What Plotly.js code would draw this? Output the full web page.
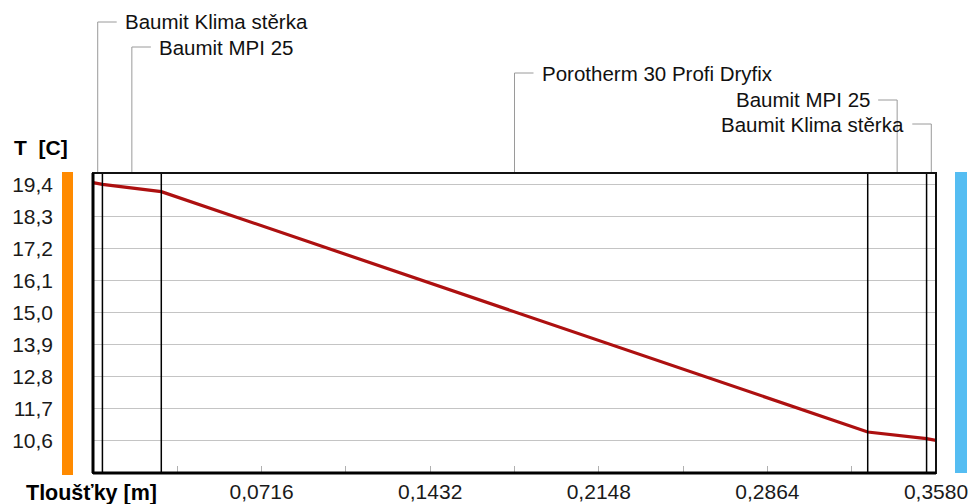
<!DOCTYPE html>
<html>
<head>
<meta charset="utf-8">
<script src="https://cdn.plot.ly/plotly-3.0.1.min.js"></script>
<style>html,body{margin:0;padding:0;background:#fff;}#chart{width:971px;height:504px;}</style>
</head>
<body>
<div id="chart"></div>
<script>
// Layers (from inside to outside)
const layerNames = ['Baumit Klima stěrka', 'Baumit MPI 25', 'Porotherm 30 Profi Dryfix', 'Baumit MPI 25', 'Baumit Klima stěrka'];
const layerThickness = [0.004, 0.025, 0.300, 0.025, 0.004];
// Temperature profile at layer boundaries
const depth = [0, 0.004, 0.029, 0.329, 0.354, 0.358];
const temperature = [19.48, 19.42, 19.17, 10.91, 10.68, 10.62];
// Axis ticks
const yTickVals = [10.6, 11.7, 12.8, 13.9, 15.0, 16.1, 17.2, 18.3, 19.4];
const yTickText = ['10,6', '11,7', '12,8', '13,9', '15,0', '16,1', '17,2', '18,3', '19,4'];
const xTickVals = [0.0358, 0.0716, 0.1074, 0.1432, 0.1790, 0.2148, 0.2506, 0.2864, 0.3222, 0.3580];
const xTickText = ['', '0,0716', '', '0,1432', '', '0,2148', '', '0,2864', '', '0,3580'];

const W = 971, H = 504;
const mL = 93, mR = 35, mT = 173, mB = 31;
const plotW = W - mL - mR, plotH = H - mT - mB;
const px2paperX = p => (p - mL) / plotW;
const px2paperY = p => (H - mB - p) / plotH;

// boundaries and centers
const bounds = [0];
layerThickness.forEach(t => bounds.push(+(bounds[bounds.length - 1] + t).toFixed(4)));
const centers = layerThickness.map((t, i) => bounds[i] + t / 2);

const shapes = [];
const annotations = [];
const FONT = 'Liberation Sans, Arial, sans-serif';

// layer boundary lines
bounds.slice(1, -1).forEach(b => {
  shapes.push({type: 'line', xref: 'x', yref: 'paper', x0: b, x1: b, y0: 0, y1: 1,
    line: {color: '#000', width: 1.5}});
});

// label placement (pixels)
const labelY = [22, 47, 73, 100, 124];
const side = [1, 1, 1, -1, -1];
layerNames.forEach((name, i) => {
  const yp = px2paperY(labelY[i]);
  shapes.push({type: 'line', xref: 'x', yref: 'paper', xsizemode: 'pixel', xanchor: centers[i],
    x0: 0, x1: 0, y0: 1, y1: yp, line: {color: '#9a9a9a', width: 1}});
  shapes.push({type: 'line', xref: 'x', yref: 'paper', xsizemode: 'pixel', xanchor: centers[i],
    x0: 0, x1: 19 * side[i], y0: yp, y1: yp, line: {color: '#9a9a9a', width: 1}});
  annotations.push({text: name, xref: 'x', yref: 'paper', x: centers[i], y: yp,
    xshift: 25 * side[i], xanchor: side[i] > 0 ? 'left' : 'right', yanchor: 'middle',
    showarrow: false, font: {family: FONT, size: 20.5, color: '#111'}});
});

// frame
shapes.push({type: 'rect', xref: 'paper', yref: 'paper', x0: 0, x1: 1, y0: 0, y1: 1,
  line: {color: '#111', width: 2}});
shapes.push({type: 'line', xref: 'paper', yref: 'paper', x0: 0, x1: 0, y0: 0, y1: 1, line: {color: '#000', width: 3}});
shapes.push({type: 'line', xref: 'paper', yref: 'paper', x0: 0, x1: 1, y0: 0, y1: 0, line: {color: '#000', width: 3}});

// side bars (inside / outside)
shapes.push({type: 'rect', xref: 'paper', yref: 'paper', x0: px2paperX(62), x1: px2paperX(73),
  y0: px2paperY(475), y1: px2paperY(172), fillcolor: '#ff8a00', line: {width: 0}});
shapes.push({type: 'rect', xref: 'paper', yref: 'paper', x0: px2paperX(955), x1: px2paperX(967),
  y0: px2paperY(473), y1: px2paperY(172), fillcolor: '#55bdf2', line: {width: 0}});

annotations.push({text: '<b>T  [C]</b>', xref: 'paper', yref: 'paper', x: px2paperX(12), y: px2paperY(147),
  xanchor: 'left', yanchor: 'middle', showarrow: false,
  font: {family: FONT, size: 21, color: '#000'}});
annotations.push({text: '<b>Tloušťky [m]</b>', xref: 'paper', yref: 'paper', x: px2paperX(24), y: px2paperY(493),
  xanchor: 'left', yanchor: 'middle', showarrow: false,
  font: {family: FONT, size: 21.5, color: '#000'}});

const trace = {
  x: depth, y: temperature, type: 'scatter', mode: 'lines',
  line: {color: '#ad1010', width: 3.2}, hoverinfo: 'skip'
};

const layout = {
  width: W, height: H,
  margin: {l: mL, r: mR, t: mT, b: mB, pad: 0},
  paper_bgcolor: '#fff', plot_bgcolor: '#fff',
  showlegend: false,
  font: {family: FONT, size: 21, color: '#1a1a1a'},
  xaxis: {
    range: [0, 0.358], tickmode: 'array', tickvals: xTickVals, ticktext: xTickText,
    ticks: 'inside', ticklen: 7, tickcolor: '#b0b0b0', tickwidth: 1,
    showgrid: false, zeroline: false, showline: false,
    tickfont: {size: 21, color: '#1a1a1a'}, ticklabelstandoff: 4
  },
  yaxis: {
    range: [9.5, 19.81], tickmode: 'array', tickvals: yTickVals, ticktext: yTickText,
    ticks: '', showgrid: true, gridcolor: '#c4c4c4', gridwidth: 1,
    zeroline: false, showline: false,
    tickfont: {size: 21, color: '#1a1a1a'}, ticklabelstandoff: 39
  },
  shapes: shapes, annotations: annotations
};

Plotly.newPlot('chart', [trace], layout, {displayModeBar: false, staticPlot: true});
</script>
</body>
</html>
